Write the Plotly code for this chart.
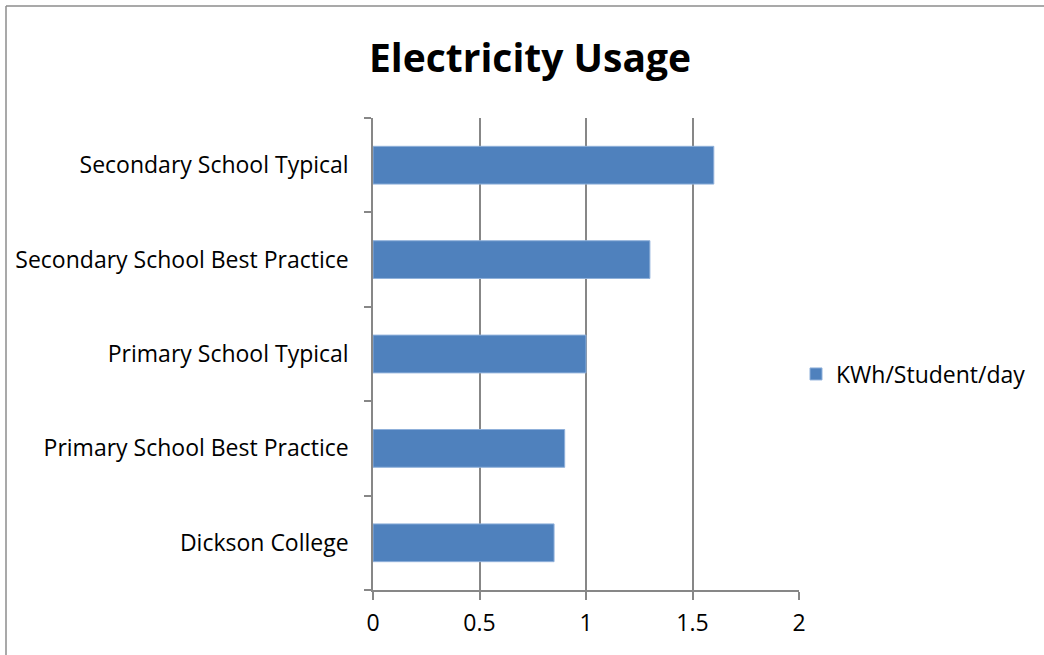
import plotly.graph_objects as go

categories = ["Dickson College", "Primary School Best Practice", "Primary School Typical",
              "Secondary School Best Practice", "Secondary School Typical"]
values = [0.85, 0.9, 1.0, 1.3, 1.6]
series_name = "KWh/Student/day"
title_text = "Electricity Usage"
x_ticks = [0, 0.5, 1, 1.5, 2]
x_tick_labels = ["0", "0.5", "1", "1.5", "2"]

W, H = 1044, 655
ml, mr, mt, mb = 373, 245, 118, 65

fig = go.Figure()
fig.add_trace(go.Bar(
    y=categories, x=values, orientation="h", name=series_name,
    marker=dict(color="#4F81BD", line=dict(color="#8FB0DA", width=1)),
    showlegend=True,
))

font_family = "'Open Sans', sans-serif"

fig.update_layout(
    width=W, height=H,
    margin=dict(l=ml, r=mr, t=mt, b=mb, autoexpand=False),
    paper_bgcolor="white", plot_bgcolor="white",
    bargap=0.6,
    font=dict(family=font_family, size=23, color="black"),
    title=dict(text="<b>" + title_text + "</b>", x=530 / W, xanchor="center",
               y=1 - 58 / H, yanchor="middle",
               font=dict(family=font_family, size=39, color="black")),
    legend=dict(x=796 / W, xanchor="left", y=1 - 374 / H, yanchor="middle",
                xref="container", yref="container",
                font=dict(family=font_family, size=23, color="black"),
                itemwidth=30, bgcolor="rgba(0,0,0,0)"),
    xaxis=dict(range=[0, 2], tickvals=x_ticks, ticktext=x_tick_labels,
               showgrid=True, gridcolor="#878787", gridwidth=1.5,
               showline=True, linecolor="#878787", linewidth=1.5,
               ticks="outside", ticklen=8, tickcolor="#878787", tickwidth=1.5,
               zeroline=False, fixedrange=True, ticklabelstandoff=4),
    yaxis=dict(type="category", categoryorder="array", categoryarray=categories,
               showgrid=False, showline=True, linecolor="#878787", linewidth=1.5,
               ticks="outside", ticklen=7, tickcolor="#878787", tickwidth=1.5,
               tickson="boundaries", ticklabelstandoff=18, fixedrange=True),
    shapes=[
        dict(type="line", xref="paper", yref="paper",
             x0=-(ml - 6) / (W - ml - mr), x1=(W - ml + 10) / (W - ml - mr),
             y0=1 + (mt - 6) / (H - mt - mb), y1=1 + (mt - 6) / (H - mt - mb),
             line=dict(color="#8C8C8C", width=1.5)),
        dict(type="line", xref="paper", yref="paper",
             x0=-(ml - 6) / (W - ml - mr), x1=-(ml - 6) / (W - ml - mr),
             y0=-(mb + 10) / (H - mt - mb), y1=1 + (mt - 6) / (H - mt - mb),
             line=dict(color="#8C8C8C", width=1.5)),
    ],
)

fig.write_html("out.html")
